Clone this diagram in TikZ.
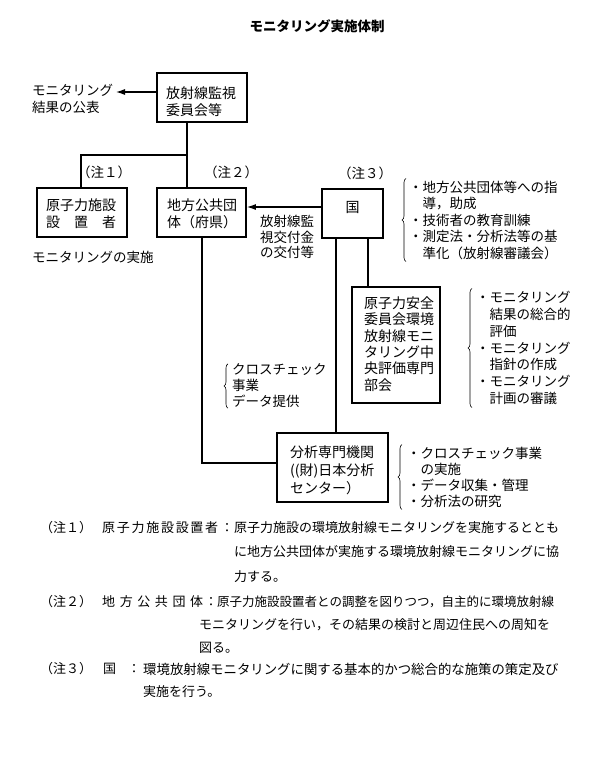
\documentclass[tikz,border=0pt]{standalone}
\usepackage{fontspec}
\newfontfamily\jp{Noto Sans CJK JP}
\usetikzlibrary{arrows.meta,decorations.pathreplacing}
\begin{document}
\begin{tikzpicture}[x=1pt,y=-1pt,
  box/.style={draw, line width=1.8pt, inner sep=0pt},
  conn/.style={line width=1.1pt},
  arr/.style={line width=1.1pt, -{Latex[length=9pt,width=6pt]}},
  brc/.style={line width=0.6pt, decorate, decoration={brace, amplitude=4pt}},
  t/.style={font=\jp\fontsize{13.5}{17}\selectfont, align=left, inner sep=0pt, anchor=west},
  bt/.style={font=\jp\fontsize{14}{17}\selectfont, align=left, inner sep=0pt, anchor=west},
  nt/.style={font=\jp\fontsize{13}{16}\selectfont, inner sep=0pt, anchor=west},
]
\useasboundingbox (0,0) rectangle (591,774);

% title
\node[font=\jp\bfseries\fontsize{13.5}{16}\selectfont, inner sep=0pt] (title) at (317,26) {モニタリング実施体制};

% boxes
\node[box, minimum width=90pt, minimum height=49pt] (iinkai) at (202,97.5) {};
\node[bt] (iinkaiT) at (166,101.5) {放射線監視\\委員会等};

\node[box, minimum width=90pt, minimum height=49pt] (genshi) at (82,212.5) {};
\node[bt] (genshiT) at (46,213.5) {原子力施設\\設　置　者};

\node[box, minimum width=89pt, minimum height=49pt] (chiho) at (201.5,212.5) {};
\node[bt] (chihoT) at (167,213.5) {地方公共団\\体（府県）};

\node[box, minimum width=61pt, minimum height=49pt] (kuni) at (352.5,213.5) {};
\node[bt, anchor=center] (kuniT) at (352.5,207) {国};

\node[box, minimum width=88pt, minimum height=116pt] (anzen) at (396,345) {};
\node[bt, font=\jp\fontsize{14}{16.4}\selectfont] (anzenT) at (364,344)
  {原子力安全\\委員会環境\\放射線モニ\\タリング中\\央評価専門\\部会};

\node[box, minimum width=111pt, minimum height=69pt] (bunseki) at (332.5,467.5) {};
\node[bt, font=\jp\fontsize{14}{18}\selectfont] (bunsekiT) at (290,470)
  {分析専門機関\\((財)日本分析\\センター）};

% free texts
\node[t, font=\jp\fontsize{13.5}{16.5}\selectfont] (kohyo) at (32,99) {モニタリング\\結果の公表};
\node[t] (jisshi) at (32,257) {モニタリングの実施};
\node[t, anchor=center] (chu1) at (104,172) {（注１）};
\node[t, anchor=center] (chu2) at (231,172) {（注２）};
\node[t, anchor=center] (chu3) at (365,173) {（注３）};
\node[t, font=\jp\fontsize{13.5}{15.5}\selectfont] (kofu) at (260,237) {放射線監\\視交付金\\の交付等};

% lists with braces
\node[t, font=\jp\fontsize{13.5}{16.5}\selectfont] (kuniL) at (409,220)
  {・地方公共団体等への指\\　導，助成\\・技術者の教育訓練\\・測定法・分析法等の基\\　準化（放射線審議会）};
\draw[brc] ([xshift=-3pt,yshift=-2pt]kuniL.south west) -- ([xshift=-3pt,yshift=2pt]kuniL.north west);

\node[t, font=\jp\fontsize{13.5}{16.7}\selectfont] (anzenL) at (476,348)
  {・モニタリング\\　結果の総合的\\　評価\\・モニタリング\\　指針の作成\\・モニタリング\\　計画の審議};
\draw[brc] ([xshift=-4pt,yshift=-3pt]anzenL.south west) -- ([xshift=-4pt,yshift=3pt]anzenL.north west);

\node[t, font=\jp\fontsize{13.5}{16}\selectfont] (crossL) at (232,386)
  {クロスチェック\\事業\\データ提供};
\draw[brc] ([xshift=-4pt]crossL.south west) -- ([xshift=-4pt]crossL.north west);

\node[t, font=\jp\fontsize{13.5}{16}\selectfont] (bunsekiL) at (407,477)
  {・クロスチェック事業\\　の実施\\・データ収集・管理\\・分析法の研究};
\draw[brc] ([xshift=-5pt,yshift=-2pt]bunsekiL.south west) -- ([xshift=-5pt,yshift=2pt]bunsekiL.north west);

% connectors
\coordinate (tipK) at (116,92);
\draw[arr] (iinkai.west |- tipK) -- (tipK);
\coordinate (j1) at (187,155);
\coordinate (j0) at (81,155);
\draw[conn] (iinkai.south -| j1) -- (chiho.north -| j1);
\draw[conn] (j1) -- (j0) -- (genshi.north -| j0);
\draw[arr] (kuni.west |- kuniT) -- (chiho.east |- kuniT);
\coordinate (l1) at (336,0);
\coordinate (l2) at (368,0);
\draw[conn] (kuni.south -| l1) -- (bunseki.north -| l1);
\draw[conn] (kuni.south -| l2) -- (anzen.north -| l2);
\coordinate (l0) at (202,463);
\draw[conn] (chiho.south -| l0) -- (l0) -- (bunseki.west |- l0);

% notes
\node[nt, anchor=center] (n1a) at (66,528) {（注１）};
\node[nt] (n1b) at (102,528) {\makebox[116pt]{原\hfill 子\hfill 力\hfill 施\hfill 設\hfill 設\hfill 置\hfill 者}};
\node[nt, anchor=center] (n1c) at (227,528) {：};
\node[nt] (n1d) at (234,528) {原子力施設の環境放射線モニタリングを実施するととも};
\node[nt] (n1e) at (234,552) {に地方公共団体が実施する環境放射線モニタリングに協};
\node[nt] (n1f) at (234,577) {力する。};

\node[nt, anchor=center] (n2a) at (66,602) {（注２）};
\node[nt] (n2b) at (102,602) {\makebox[101pt]{地\hfill 方\hfill 公\hfill 共\hfill 団\hfill 体}};
\node[nt, anchor=center] (n2c) at (211,602) {：};
\node[nt, font=\jp\fontsize{12.5}{16}\selectfont] (n2d) at (217,602) {原子力施設設置者との調整を図りつつ，自主的に環境放射線};
\node[nt] (n2e) at (199,625) {モニタリングを行い，その結果の検討と周辺住民への周知を};
\node[nt] (n2f) at (199,648) {図る。};

\node[nt, anchor=center] (n3a) at (66,669) {（注３）};
\node[nt] (n3b) at (103,669) {国};
\node[nt, anchor=center] (n3c) at (134,669) {：};
\node[nt, font=\jp\fontsize{13.4}{16}\selectfont] (n3d) at (143,669) {環境放射線モニタリングに関する基本的かつ総合的な施策の策定及び};
\node[nt] (n3e) at (143,692) {実施を行う。};
\end{tikzpicture}
\end{document}
